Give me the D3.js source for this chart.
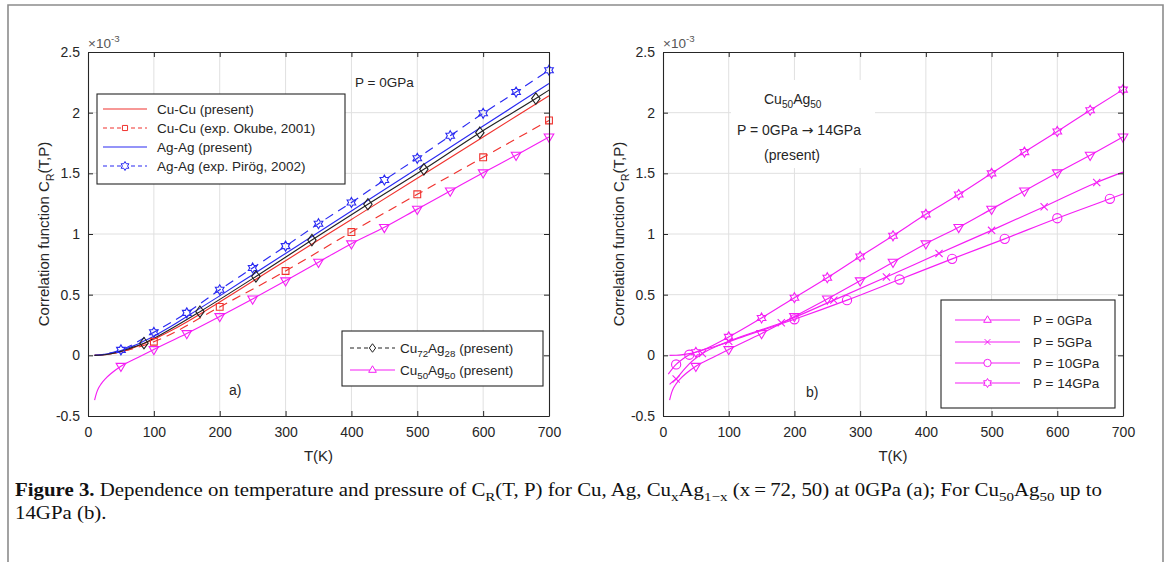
<!DOCTYPE html>
<html>
<head>
<meta charset="utf-8">
<script src="https://cdn.jsdelivr.net/npm/d3@7"></script>
<style>
  body { margin: 0; background: #fff; }
  svg { display: block; }
</style>
</head>
<body>
<svg id="fig" width="1171" height="562"></svg>
<script>
// ---- axis ticks ----
const tempTicks = [0, 100, 200, 300, 400, 500, 600, 700];
const valueTicks = [-0.5, 0, 0.5, 1, 1.5, 2, 2.5];
const valueTickLabels = ["-0.5", "0", "0.5", "1", "1.5", "2", "2.5"];

// ---- panel a: P = 0 GPa (values in units of 1e-3) ----
const cuCuPresentT = [10, 20, 30, 40, 50, 60, 70, 80, 90, 100, 125, 150, 200, 250, 300, 400, 500, 600, 700];
const cuCuPresentV = [0, 0.003, 0.008, 0.017, 0.03, 0.045, 0.064, 0.085, 0.108, 0.132, 0.2, 0.275, 0.44, 0.61, 0.78, 1.12, 1.46, 1.80, 2.14];

const cuCuOkubeT = [10, 25, 50, 75, 100, 200, 300, 400, 500, 600, 700];
const cuCuOkubeV = [0, 0.006, 0.03, 0.065, 0.112, 0.399, 0.695, 1.016, 1.327, 1.632, 1.936];
const cuCuOkubeMarkT = [100, 200, 300, 400, 500, 600, 700];
const cuCuOkubeMarkV = [0.112, 0.399, 0.695, 1.016, 1.327, 1.632, 1.936];

const agAgPresentT = [10, 20, 30, 40, 50, 60, 70, 80, 90, 100, 125, 150, 200, 250, 300, 400, 500, 600, 700];
const agAgPresentV = [0, 0.004, 0.012, 0.024, 0.04, 0.058, 0.08, 0.104, 0.13, 0.158, 0.235, 0.32, 0.49, 0.665, 0.84, 1.19, 1.54, 1.89, 2.24];

const agAgPirogT = [10, 20, 30, 40, 50, 100, 150, 200, 250, 300, 350, 400, 450, 500, 550, 600, 650, 700];
const agAgPirogV = [0, 0.005, 0.015, 0.028, 0.045, 0.19, 0.35, 0.54, 0.72, 0.90, 1.085, 1.26, 1.445, 1.624, 1.81, 1.995, 2.17, 2.35];
const agAgPirogMarkT = [50, 100, 150, 200, 250, 300, 350, 400, 450, 500, 550, 600, 650, 700];
const agAgPirogMarkV = [0.045, 0.19, 0.35, 0.54, 0.72, 0.90, 1.085, 1.26, 1.445, 1.624, 1.81, 1.995, 2.17, 2.35];

const cu72T = [10, 20, 30, 40, 50, 60, 70, 85, 100, 125, 170, 255, 340, 425, 510, 595, 680, 700];
const cu72V = [0, 0.003, 0.009, 0.019, 0.033, 0.05, 0.07, 0.10, 0.14, 0.215, 0.36, 0.65, 0.95, 1.245, 1.533, 1.835, 2.116, 2.186];
const cu72MarkT = [85, 170, 255, 340, 425, 510, 595, 680];
const cu72MarkV = [0.10, 0.36, 0.65, 0.95, 1.245, 1.533, 1.835, 2.116];

// Cu50Ag50 at 0 GPa (shared by both panels)
const cu50T = [10, 13, 16, 20, 27, 35, 50, 75, 100, 150, 200, 250, 300, 350, 400, 450, 500, 550, 600, 650, 700];
const cu50V = [-0.37, -0.31, -0.27, -0.235, -0.19, -0.15, -0.09, -0.02, 0.048, 0.18, 0.32, 0.465, 0.615, 0.768, 0.92, 1.055, 1.205, 1.355, 1.505, 1.65, 1.80];
const cu50MarkT = [50, 100, 150, 200, 250, 300, 350, 400, 450, 500, 550, 600, 650, 700];
const cu50MarkV = [-0.09, 0.048, 0.18, 0.32, 0.465, 0.615, 0.768, 0.92, 1.055, 1.205, 1.355, 1.505, 1.65, 1.80];

// ---- panel b: Cu50Ag50 under pressure ----
const p5T = [10, 15, 20, 30, 40, 60, 100, 180, 260, 340, 420, 500, 580, 660, 700];
const p5V = [-0.24, -0.215, -0.195, -0.13, -0.07, 0.015, 0.115, 0.268, 0.455, 0.645, 0.84, 1.03, 1.225, 1.425, 1.51];
const p5MarkT = [20, 60, 100, 180, 260, 340, 420, 500, 580, 660];
const p5MarkV = [-0.195, 0.015, 0.115, 0.268, 0.455, 0.645, 0.84, 1.03, 1.225, 1.425];

const p10T = [8, 20, 30, 40, 60, 80, 120, 200, 280, 360, 440, 520, 600, 680, 700];
const p10V = [-0.155, -0.075, -0.03, 0.005, 0.045, 0.075, 0.15, 0.297, 0.455, 0.625, 0.795, 0.96, 1.13, 1.29, 1.33];
const p10MarkT = [20, 40, 200, 280, 360, 440, 520, 600, 680];
const p10MarkV = [-0.075, 0.005, 0.297, 0.455, 0.625, 0.795, 0.96, 1.13, 1.29];

const p14T = [10, 20, 30, 40, 50, 100, 150, 200, 250, 300, 350, 400, 450, 500, 550, 600, 650, 700];
const p14V = [0, 0.001, 0.006, 0.014, 0.025, 0.152, 0.308, 0.475, 0.64, 0.815, 0.985, 1.162, 1.325, 1.5, 1.675, 1.845, 2.02, 2.19];
const p14MarkT = [50, 100, 150, 200, 250, 300, 350, 400, 450, 500, 550, 600, 650, 700];
const p14MarkV = [0.025, 0.152, 0.308, 0.475, 0.64, 0.815, 0.985, 1.162, 1.325, 1.5, 1.675, 1.845, 2.02, 2.19];

// ---- styling ----
const RED = "#f0322e", BLUE = "#2a2af2", BLACK = "#222222", MAG = "#f51ef5";
const TEXT = "#262626";
const SANS = "'Liberation Sans', Arial, Helvetica, sans-serif";
const SERIF = "'Liberation Serif', 'Times New Roman', serif";
const LEG_FS = 13.5;

const svg = d3.select("#fig");

// outer figure frame
svg.append("path")
  .attr("d", "M8,562V5H1163V562")
  .attr("fill", "none").attr("stroke", "#8c8c8c").attr("stroke-width", 1.6);

// marker shapes
function markerPath(type, s) {
  switch (type) {
    case "square": return `M${-s},${-s}H${s}V${s}H${-s}Z`;
    case "diamond": return `M0,${-s * 1.35}L${s},0L0,${s * 1.35}L${-s},0Z`;
    case "triDown": return `M${-s},${-s * 0.6}L${s},${-s * 0.6}L0,${s * 1.1}Z`;
    case "triUp": return `M${-s},${s * 0.6}L${s},${s * 0.6}L0,${-s * 1.1}Z`;
    case "circle": return `M${s},0A${s},${s} 0 1,1 ${-s},0A${s},${s} 0 1,1 ${s},0Z`;
    case "cross": return `M${-s},${-s}L${s},${s}M${-s},${s}L${s},${-s}`;
    case "hexagram": {
      const pts = [];
      for (let k = 0; k < 12; k++) {
        const a = -Math.PI / 2 + k * Math.PI / 6;
        const r = k % 2 ? s / Math.sqrt(3) : s;
        pts.push([r * Math.cos(a), r * Math.sin(a)]);
      }
      return "M" + pts.map(p => p[0].toFixed(2) + "," + p[1].toFixed(2)).join("L") + "Z";
    }
  }
  return "";
}
const markerSize = { square: 3.4, diamond: 4.2, triDown: 4.8, triUp: 4.8, circle: 4.6, cross: 3.6, hexagram: 5 };

// rich text with sub/superscripts
function rich(textSel, parts, fs) {
  let shift = 0;
  parts.forEach(p => {
    const target = p.sub ? fs * 0.3 : p.sup ? -fs * 0.42 : 0;
    const ts = textSel.append("tspan").text(p.t).attr("dy", target - shift);
    if (p.sub || p.sup) ts.attr("font-size", fs * 0.72);
    if (p.bold) ts.attr("font-weight", "bold");
    if (p.font) ts.attr("font-family", p.font);
    shift = target;
  });
  return textSel;
}

const Y0 = 416, Y1 = 52;

function drawPanel(x0, x1) {
  const x = d3.scaleLinear().domain([0, 700]).range([x0, x1]);
  const y = d3.scaleLinear().domain([-0.5, 2.5]).range([Y0, Y1]);
  const g = svg.append("g");
  const grid = g.append("g").attr("stroke", "#e0e0e0").attr("stroke-width", 1);
  grid.selectAll("line.gx").data(tempTicks.slice(1, -1)).join("line")
    .attr("x1", d => x(d)).attr("x2", d => x(d)).attr("y1", Y1).attr("y2", Y0);
  grid.selectAll("line.gy").data(valueTicks.slice(1, -1)).join("line")
    .attr("y1", d => y(d)).attr("y2", d => y(d)).attr("x1", x0).attr("x2", x1);
  const dataLayer = g.append("g");
  const axisLayer = g.append("g");
  return { g, x, y, dataLayer, axisLayer, x0, x1 };
}

function styleAxis(sel) {
  sel.select(".domain").attr("stroke", TEXT).attr("stroke-width", 1.1);
  sel.selectAll(".tick line").attr("stroke", TEXT).attr("stroke-width", 1);
  sel.selectAll(".tick text").attr("fill", TEXT).attr("font-family", SANS).attr("font-size", 14);
}

function drawAxes(p) {
  const a = p.axisLayer;
  a.append("g").attr("transform", `translate(0,${Y0})`)
    .call(d3.axisBottom(p.x).tickValues(tempTicks).tickSize(-5).tickSizeOuter(0).tickPadding(11)).call(styleAxis);
  a.append("g").attr("transform", `translate(0,${Y1})`)
    .call(d3.axisTop(p.x).tickValues(tempTicks).tickSize(-5).tickSizeOuter(0).tickFormat("")).call(styleAxis);
  a.append("g").attr("transform", `translate(${p.x0},0)`)
    .call(d3.axisLeft(p.y).tickValues(valueTicks).tickSize(-5).tickSizeOuter(0).tickPadding(8)
      .tickFormat((d, i) => valueTickLabels[i])).call(styleAxis);
  a.append("g").attr("transform", `translate(${p.x1},0)`)
    .call(d3.axisRight(p.y).tickValues(valueTicks).tickSize(-5).tickSizeOuter(0).tickFormat("")).call(styleAxis);

  // exponent note
  rich(a.append("text").attr("x", p.x0).attr("y", 48)
    .attr("font-family", SANS).attr("font-size", 13.5).attr("fill", "#555"),
    [{ t: "\u00d710" }, { t: "-3", sup: true }], 13.5);

  // axis titles
  a.append("text").attr("x", (p.x0 + p.x1) / 2).attr("y", 461)
    .attr("text-anchor", "middle").attr("font-family", SANS).attr("font-size", 15).attr("fill", TEXT)
    .text("T(K)");
  rich(a.append("text")
    .attr("transform", `translate(${p.x0 - 39},${(Y0 + Y1) / 2}) rotate(-90)`)
    .attr("text-anchor", "middle").attr("font-family", SANS).attr("font-size", 15).attr("fill", TEXT),
    [{ t: "Correlation function C" }, { t: "R", sub: true }, { t: "(T,P)" }], 15);
}

function drawSeries(p, T, V, color, dash) {
  const line = d3.line().x((d, i) => p.x(T[i])).y(d => p.y(d)).curve(d3.curveMonotoneX);
  p.dataLayer.append("path").datum(V).attr("d", line)
    .attr("fill", "none").attr("stroke", color).attr("stroke-width", 1.15)
    .attr("stroke-dasharray", dash || null);
}

function drawMarkers(p, T, V, color, type) {
  p.dataLayer.append("g").selectAll("path").data(V).join("path")
    .attr("transform", (d, i) => `translate(${p.x(T[i])},${p.y(d)})`)
    .attr("d", markerPath(type, markerSize[type]))
    .attr("fill", "none").attr("stroke", color).attr("stroke-width", 1.1);
}

function drawLegend(box, entries) {
  const g = svg.append("g");
  g.append("rect").attr("x", box.x).attr("y", box.y).attr("width", box.w).attr("height", box.h)
    .attr("fill", "#fff").attr("stroke", TEXT).attr("stroke-width", 1.1);
  entries.forEach((e, i) => {
    const yy = box.rows[i];
    g.append("line").attr("x1", box.lx0).attr("x2", box.lx1).attr("y1", yy).attr("y2", yy)
      .attr("stroke", e.color).attr("stroke-width", 1.1).attr("stroke-dasharray", e.dash || null);
    if (e.marker) {
      g.append("path").attr("transform", `translate(${(box.lx0 + box.lx1) / 2},${yy})`)
        .attr("d", markerPath(e.marker, markerSize[e.marker] * (e.mscale || 0.8)))
        .attr("fill", "#fff").attr("stroke", e.color).attr("stroke-width", 1);
    }
    rich(g.append("text").attr("x", box.tx).attr("y", yy + 4.8)
      .attr("font-family", SANS).attr("font-size", LEG_FS).attr("fill", TEXT), e.parts, LEG_FS);
  });
}

// ================= panel a =================
const pa = drawPanel(88, 549);
drawSeries(pa, cuCuOkubeT, cuCuOkubeV, RED, "9,6");
drawSeries(pa, agAgPirogT, agAgPirogV, BLUE, "9,6");
drawSeries(pa, cuCuPresentT, cuCuPresentV, RED);
drawSeries(pa, agAgPresentT, agAgPresentV, BLUE);
drawSeries(pa, cu72T, cu72V, BLACK);
drawSeries(pa, cu50T, cu50V, MAG);
drawMarkers(pa, cuCuOkubeMarkT, cuCuOkubeMarkV, RED, "square");
drawMarkers(pa, agAgPirogMarkT, agAgPirogMarkV, BLUE, "hexagram");
drawMarkers(pa, cu72MarkT, cu72MarkV, BLACK, "diamond");
drawMarkers(pa, cu50MarkT, cu50MarkV, MAG, "triDown");
drawAxes(pa);

pa.axisLayer.append("text").attr("x", 355).attr("y", 87)
  .attr("font-family", SANS).attr("font-size", 13.5).attr("fill", TEXT).text("P = 0GPa");
pa.axisLayer.append("text").attr("x", 229).attr("y", 395)
  .attr("font-family", SANS).attr("font-size", 14).attr("fill", TEXT).text("a)");

drawLegend({ x: 97, y: 94, w: 248, h: 90, rows: [109, 128, 147, 166], lx0: 103, lx1: 147, tx: 157 }, [
  { color: RED, parts: [{ t: "Cu-Cu (present)" }] },
  { color: RED, dash: "4,3", marker: "square", mscale: 0.75, parts: [{ t: "Cu-Cu (exp. Okube, 2001)" }] },
  { color: BLUE, parts: [{ t: "Ag-Ag (present)" }] },
  { color: BLUE, dash: "4,3", marker: "hexagram", mscale: 0.9, parts: [{ t: "Ag-Ag (exp. Pir\u00f6g, 2002)" }] }
]);
drawLegend({ x: 342, y: 331, w: 201, h: 55, rows: [348, 370], lx0: 350, lx1: 395, tx: 400 }, [
  { color: BLACK, dash: "4,3", marker: "diamond", mscale: 0.75,
    parts: [{ t: "Cu" }, { t: "72", sub: true }, { t: "Ag" }, { t: "28", sub: true }, { t: " (present)" }] },
  { color: MAG, marker: "triUp", mscale: 0.8,
    parts: [{ t: "Cu" }, { t: "50", sub: true }, { t: "Ag" }, { t: "50", sub: true }, { t: " (present)" }] }
]);

// ================= panel b =================
const pb = drawPanel(663, 1123);
drawSeries(pb, cu50T, cu50V, MAG);
drawSeries(pb, p5T, p5V, MAG);
drawSeries(pb, p10T, p10V, MAG);
drawSeries(pb, p14T, p14V, MAG);
drawMarkers(pb, cu50MarkT, cu50MarkV, MAG, "triDown");
drawMarkers(pb, p5MarkT, p5MarkV, MAG, "cross");
drawMarkers(pb, p10MarkT, p10MarkV, MAG, "circle");
drawMarkers(pb, p14MarkT, p14MarkV, MAG, "hexagram");
drawAxes(pb);

// annotation box
pb.axisLayer.append("rect").attr("x", 731).attr("y", 80).attr("width", 144).attr("height", 88).attr("fill", "#fff");
rich(pb.axisLayer.append("text").attr("x", 764).attr("y", 104)
  .attr("font-family", SANS).attr("font-size", 14).attr("fill", TEXT),
  [{ t: "Cu" }, { t: "50", sub: true }, { t: "Ag" }, { t: "50", sub: true }], 14);
rich(pb.axisLayer.append("text").attr("x", 737).attr("y", 135)
  .attr("font-family", SANS).attr("font-size", 14).attr("fill", TEXT),
  [{ t: "P = 0GPa " }, { t: "\u2192", font: "'DejaVu Sans', sans-serif" }, { t: " 14GPa" }], 14);
pb.axisLayer.append("text").attr("x", 764).attr("y", 160)
  .attr("font-family", SANS).attr("font-size", 14).attr("fill", TEXT).text("(present)");
pb.axisLayer.append("text").attr("x", 806).attr("y", 397)
  .attr("font-family", SANS).attr("font-size", 14).attr("fill", TEXT).text("b)");

drawLegend({ x: 941, y: 300, w: 174, h: 108, rows: [320, 342, 363, 383], lx0: 955, lx1: 1020, tx: 1033 }, [
  { color: MAG, marker: "triUp", mscale: 0.8, parts: [{ t: "P = 0GPa" }] },
  { color: MAG, marker: "cross", mscale: 0.8, parts: [{ t: "P = 5GPa" }] },
  { color: MAG, marker: "circle", mscale: 0.8, parts: [{ t: "P = 10GPa" }] },
  { color: MAG, marker: "hexagram", mscale: 0.9, parts: [{ t: "P = 14GPa" }] }
]);

// ================= caption =================
const cap1 = rich(svg.append("text").attr("x", 15).attr("y", 496)
  .attr("font-family", SERIF).attr("font-size", 18).attr("fill", "#111"), [
  { t: "Figure 3.", bold: true },
  { t: " Dependence on temperature and pressure of C" }, { t: "R", sub: true },
  { t: "(T, P) for Cu, Ag, Cu" }, { t: "x", sub: true }, { t: "Ag" }, { t: "1\u2212x", sub: true },
  { t: " (x\u2009=\u200972, 50) at 0GPa (a); For Cu" }, { t: "50", sub: true }, { t: "Ag" }, { t: "50", sub: true },
  { t: " up to" }
], 18);
const cap2 = svg.append("text").attr("x", 15).attr("y", 519)
  .attr("font-family", SERIF).attr("font-size", 18).attr("fill", "#111").text("14GPa (b).");

// fit caption line to the column width
const natural = cap1.node().getComputedTextLength();
const k = 1088 / natural;
cap1.attr("transform", `translate(15,0) scale(${k},1) translate(-15,0)`);
cap2.attr("transform", `translate(15,0) scale(${k},1) translate(-15,0)`);
</script>
</body>
</html>
